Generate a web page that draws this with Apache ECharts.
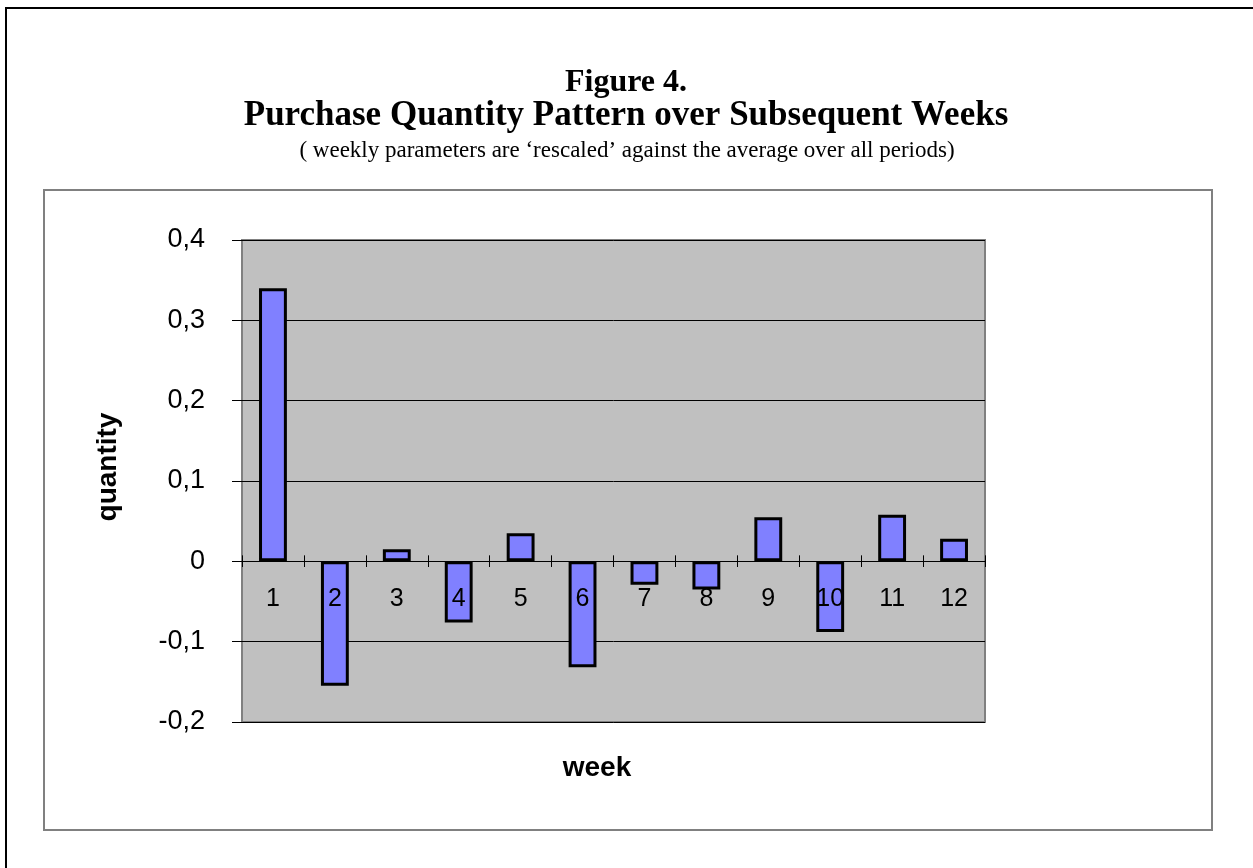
<!DOCTYPE html>
<html>
<head>
<meta charset="utf-8">
<title>Figure 4</title>
<script src="https://cdn.jsdelivr.net/npm/echarts@6/dist/echarts.min.js"></script>
<style>
  html, body { margin: 0; padding: 0; background: #fff; }
  #chart { width: 1253px; height: 868px; }
</style>
</head>
<body>
<div id="chart"></div>
<script>
// data
const weeks = ['1', '2', '3', '4', '5', '6', '7', '8', '9', '10', '11', '12']
const quantity = [0.340, -0.155, 0.015, -0.076, 0.035, -0.132, -0.029, -0.035, 0.055, -0.088, 0.058, 0.028]
const yTicks = [-0.2, -0.1, 0, 0.1, 0.2, 0.3, 0.4]

const SANS = '"Liberation Sans", Arial, sans-serif'
const SERIF = '"Liberation Serif", "Times New Roman", serif'

const chart = echarts.init(document.getElementById('chart'))

const fmt = v => String(+Number(v).toFixed(1)).replace('.', ',')

const yMin = yTicks[0]
const yMax = yTicks[yTicks.length - 1]

const gridTop = 240
const gridBottom = 146
const plotH = 868 - gridTop - gridBottom
// distance from the bottom of the plot up to the zero line
const zeroOffset = -Math.round(plotH * (0 - yMin) / (yMax - yMin))

const option = {
  animation: false,
  backgroundColor: '#fff',
  graphic: [
    // outer page frame
    { type: 'rect', shape: { x: 6, y: 8, width: 1300, height: 900 },
      style: { fill: 'none', stroke: '#000', lineWidth: 2 }, silent: true },
    // chart area frame
    { type: 'rect', shape: { x: 44, y: 190, width: 1168, height: 640 },
      style: { fill: 'none', stroke: '#808080', lineWidth: 2 }, silent: true },
    { type: 'text', x: 626, y: 83, silent: true,
      style: { text: 'Figure 4.', font: 'bold 32px ' + SERIF, fill: '#000', align: 'center', verticalAlign: 'middle' } },
    { type: 'text', x: 626, y: 116, silent: true,
      style: { text: 'Purchase Quantity Pattern over Subsequent Weeks', font: 'bold 35px ' + SERIF, fill: '#000', align: 'center', verticalAlign: 'middle' } },
    { type: 'text', x: 627, y: 151, silent: true,
      style: { text: '( weekly parameters are \u2018rescaled\u2019 against the average over all periods)', font: '23px ' + SERIF, fill: '#000', align: 'center', verticalAlign: 'middle' } },
    { type: 'text', x: 108, y: 467, rotation: Math.PI / 2, silent: true,
      style: { text: 'quantity', font: 'bold 28px ' + SANS, fill: '#000', align: 'center', verticalAlign: 'middle' } },
    { type: 'text', x: 597, y: 768, silent: true,
      style: { text: 'week', font: 'bold 28px ' + SANS, fill: '#000', align: 'center', verticalAlign: 'middle' } }
  ],
  grid: {
    left: 242,
    right: 268,
    top: gridTop,
    bottom: gridBottom,
    show: true,
    backgroundColor: '#C0C0C0',
    borderColor: '#808080',
    borderWidth: 2
  },
  xAxis: [
    {
      // axis that carries the bars, not drawn
      type: 'category',
      data: weeks,
      position: 'bottom',
      show: false
    },
    {
      // visible category axis moved up to the zero line: line, lower ticks, labels
      // drawn above the bars so labels stay readable over them
      type: 'category',
      data: weeks,
      position: 'bottom',
      offset: zeroOffset,
      z: 10,
      axisLine: { show: true, onZero: false, lineStyle: { color: '#000', width: 1 } },
      axisTick: { show: true, length: 6, lineStyle: { color: '#000', width: 1 } },
      axisLabel: { color: '#000', fontFamily: SANS, fontSize: 25, margin: 26 },
      splitLine: { show: false }
    },
    {
      // upper half of the tick marks crossing the zero line
      type: 'category',
      data: weeks,
      position: 'top',
      axisLine: { show: false, onZero: true, onZeroAxisIndex: 1 },
      axisTick: { show: true, length: 6, lineStyle: { color: '#000', width: 1 } },
      axisLabel: { show: false },
      splitLine: { show: false }
    }
  ],
  yAxis: [
    {
      type: 'value',
      min: yMin,
      max: yMax,
      interval: 0.1,
      axisLine: { show: false },
      axisTick: { show: true, length: 10, lineStyle: { color: '#000', width: 1 } },
      axisLabel: { color: '#000', fontFamily: SANS, fontSize: 27, margin: 37, formatter: fmt },
      splitLine: { show: true, lineStyle: { color: '#000', width: 1 } }
    },
    {
      // hidden twin, only used as the zero reference of the upper tick row
      type: 'value',
      min: yMin,
      max: yMax,
      interval: 0.1,
      position: 'right',
      axisLine: { show: false },
      axisTick: { show: false },
      axisLabel: { show: false },
      splitLine: { show: false }
    }
  ],
  series: [
    {
      name: 'quantity',
      type: 'bar',
      xAxisIndex: 0,
      yAxisIndex: 0,
      data: quantity,
      barCategoryGap: '55%',
      itemStyle: { color: '#8080FF', borderColor: '#000', borderWidth: 3 }
    }
  ]
}

chart.setOption(option)
</script>
</body>
</html>
